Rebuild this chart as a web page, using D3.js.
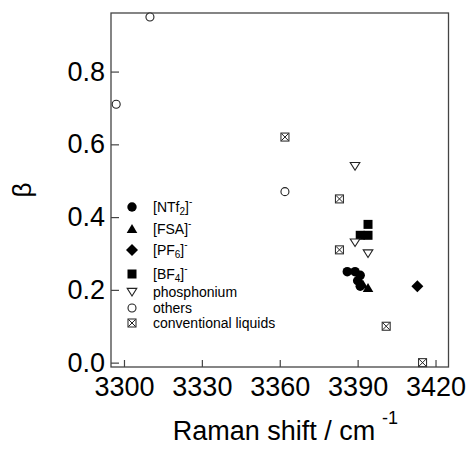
<!DOCTYPE html>
<html><head>
<meta charset="utf-8">
<script src="https://d3js.org/d3.v7.min.js"></script>
<style>
  body { margin: 0; background: #fff; }
  text { font-family: Arial, "Liberation Sans", sans-serif; fill: #000; }
  .axis .domain { stroke: none; }
  .axis line { stroke: #444; stroke-width: 1.2px; }
</style>
</head>
<body>
<svg id="chart" width="467" height="452"></svg>
<script>
// values
const ntf2X = [3386, 3389, 3391, 3390, 3391];
const ntf2Y = [0.25, 0.25, 0.24, 0.225, 0.21];
const fsaX = [3392, 3394];
const fsaY = [0.215, 0.205];
const pf6X = [3413];
const pf6Y = [0.21];
const bf4X = [3391, 3394, 3394];
const bf4Y = [0.35, 0.35, 0.38];
const phosX = [3389, 3389, 3394];
const phosY = [0.54, 0.33, 0.30];
const otherX = [3310, 3297, 3362];
const otherY = [0.95, 0.71, 0.47];
const convX = [3362, 3383, 3383, 3401, 3415];
const convY = [0.62, 0.45, 0.31, 0.10, 0.00];

const xTicks = [3300, 3330, 3360, 3390, 3420];
const yTicks = [0.0, 0.2, 0.4, 0.6, 0.8];

const series = [
  {name: "NTf", sub: "2", sup: "-", shape: "circle", xs: ntf2X, ys: ntf2Y},
  {name: "FSA", sub: "", sup: "-", shape: "triangle", xs: fsaX, ys: fsaY},
  {name: "PF", sub: "6", sup: "-", shape: "diamond", xs: pf6X, ys: pf6Y},
  {name: "BF", sub: "4", sup: "-", shape: "square", xs: bf4X, ys: bf4Y},
  {name: "phosphonium", shape: "opentri", xs: phosX, ys: phosY},
  {name: "others", shape: "opencircle", xs: otherX, ys: otherY},
  {name: "conventional liquids", shape: "boxx", xs: convX, ys: convY}
];

const svg = d3.select("svg#chart");
const margins = {top: 13, left: 111, right: 18.5, bottom: 85};
const chartWidth = 467 - margins.left - margins.right;
const chartHeight = 452 - margins.top - margins.bottom;

const xScale = d3.scaleLinear().domain([3295, 3425]).range([0, chartWidth]);
const yScale = d3.scaleLinear().domain([-0.012, 0.961]).range([chartHeight, 0]);

const plot = svg.append("g")
  .attr("transform", "translate(" + margins.left + "," + margins.top + ")");

// axes with inward ticks
plot.append("g").attr("class", "axis")
  .call(d3.axisLeft(yScale).tickValues(yTicks).tickFormat(d3.format(".1f"))
        .tickSizeInner(-8).tickSizeOuter(0).tickPadding(6))
  .selectAll("text").style("font-size", "27px");

plot.append("g").attr("class", "axis")
  .attr("transform", "translate(0," + chartHeight + ")")
  .call(d3.axisBottom(xScale).tickValues(xTicks).tickFormat(d3.format("d"))
        .tickSizeInner(-7).tickSizeOuter(0).tickPadding(10))
  .selectAll("text").style("font-size", "27px");

plot.append("rect")
  .attr("width", chartWidth).attr("height", chartHeight)
  .attr("fill", "none").attr("stroke", "#444").attr("stroke-width", 1.3);

// marker drawing
function marker(g, shape, cx, cy) {
  if (shape === "circle") {
    g.append("circle").attr("cx", cx).attr("cy", cy).attr("r", 4.7).attr("fill", "#000");
  } else if (shape === "triangle") {
    g.append("path").attr("d", "M" + cx + "," + (cy - 5) + "L" + (cx + 5.3) + "," + (cy + 4) + "L" + (cx - 5.3) + "," + (cy + 4) + "Z")
      .attr("fill", "#000");
  } else if (shape === "diamond") {
    g.append("path").attr("d", "M" + cx + "," + (cy - 6) + "L" + (cx + 6) + "," + cy + "L" + cx + "," + (cy + 6) + "L" + (cx - 6) + "," + cy + "Z")
      .attr("fill", "#000");
  } else if (shape === "square") {
    g.append("rect").attr("x", cx - 4.5).attr("y", cy - 4.5).attr("width", 9).attr("height", 9).attr("fill", "#000");
  } else if (shape === "opentri") {
    g.append("path").attr("d", "M" + (cx - 4.8) + "," + (cy - 3.6) + "L" + (cx + 4.8) + "," + (cy - 3.6) + "L" + cx + "," + (cy + 4) + "Z")
      .attr("fill", "#fff").attr("stroke", "#222").attr("stroke-width", 1.1);
  } else if (shape === "opencircle") {
    g.append("circle").attr("cx", cx).attr("cy", cy).attr("r", 4)
      .attr("fill", "#fff").attr("stroke", "#222").attr("stroke-width", 1.1);
  } else if (shape === "boxx") {
    g.append("rect").attr("x", cx - 4).attr("y", cy - 4).attr("width", 8).attr("height", 8)
      .attr("fill", "#fff").attr("stroke", "#333").attr("stroke-width", 1.1);
    g.append("path").attr("d", "M" + (cx - 3.5) + "," + (cy - 3.5) + "L" + (cx + 3.5) + "," + (cy + 3.5) +
                               "M" + (cx + 3.5) + "," + (cy - 3.5) + "L" + (cx - 3.5) + "," + (cy + 3.5))
      .attr("stroke", "#222").attr("stroke-width", 1);
  }
}

// data points
series.forEach((s) => {
  const g = plot.append("g");
  s.xs.forEach((v, i) => {
    marker(g, s.shape, xScale(v), yScale(s.ys[i]));
  });
});

// legend
const legendRows = [207, 229, 250, 274, 292, 308, 323];
const legend = svg.append("g");
series.forEach((s, i) => {
  const cy = legendRows[i];
  marker(legend, s.shape, 132, cy);
  const t = legend.append("text").attr("x", 153).attr("y", cy + 5).style("font-size", "14px");
  if (s.sup) {
    t.append("tspan").text("[" + s.name);
    if (s.sub) {
      t.append("tspan").attr("dy", 3).style("font-size", "10px").text(s.sub);
      t.append("tspan").attr("dy", -3).text("]");
    } else {
      t.append("tspan").text("]");
    }
    t.append("tspan").attr("dy", -7).style("font-size", "10px").text(s.sup);
  } else {
    t.text(s.name);
  }
});

// axis titles
svg.append("text").attr("x", 274).attr("y", 440).attr("text-anchor", "middle")
  .style("font-size", "27px").text("Raman shift / cm");
svg.append("text").attr("x", 382).attr("y", 424)
  .style("font-size", "18px").text("-1");

svg.append("text").attr("transform", "translate(31,190) rotate(-90)")
  .attr("text-anchor", "middle").style("font-size", "26px").text("β");
</script>
</body>
</html>
